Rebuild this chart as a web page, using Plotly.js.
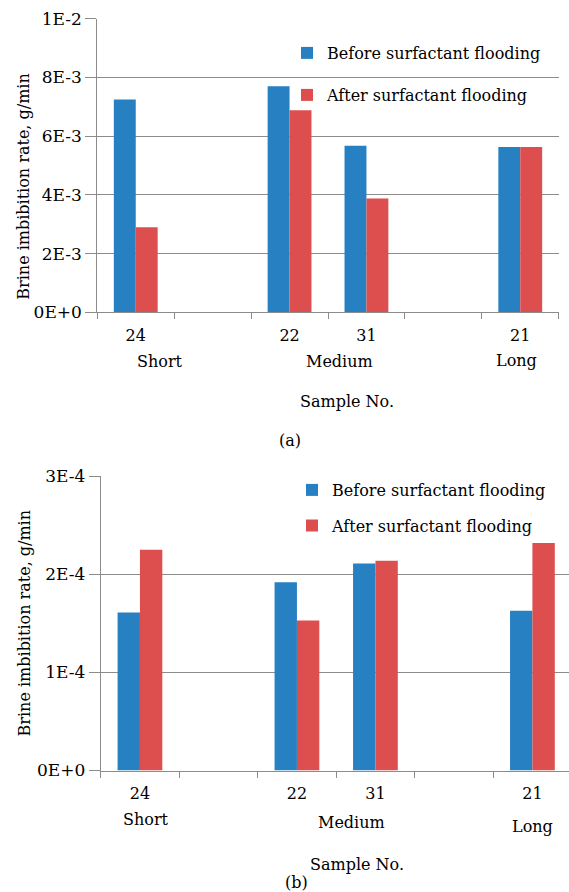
<!DOCTYPE html>
<html>
<head>
<meta charset="utf-8">
<script src="https://cdn.plot.ly/plotly-3.0.1.min.js"></script>
<style>html,body{margin:0;padding:0;background:#fff}#chart{width:569px;height:892px}</style>
</head>
<body>
<div id="chart"></div>
<script>
// ---- data ----
const categories = ["24", " ", "22", "31", "  ", "21"];
const groupLabels = ["Short", "Medium", "Long"];
const seriesNames = ["Before surfactant flooding", "After surfactant flooding"];
const beforeA = [0.00725, null, 0.0077, 0.00567, null, 0.00563];
const afterA  = [0.0029,  null, 0.00688, 0.00388, null, 0.00563];
const beforeB = [1.61e-4, null, 1.92e-4, 2.11e-4, null, 1.63e-4];
const afterB  = [2.25e-4, null, 1.53e-4, 2.14e-4, null, 2.32e-4];
const yTickValsA = [0, 0.002, 0.004, 0.006, 0.008, 0.01];
const yTickTextA = ["0E+0", "2E-3", "4E-3", "6E-3", "8E-3", "1E-2"];
const yTickValsB = [0, 1e-4, 2e-4, 3e-4];
const yTickTextB = ["0E+0", "1E-4", "2E-4", "3E-4"];
const yTitle = "Brine imbibition rate, g/min";
const xTitle = "Sample No.";
const panelLabels = ["(a)", "(b)"];

// ---- styling ----
const W = 569, H = 892;
const px = x => x / W;
const py = y => 1 - y / H;
const FONT = "DejaVu Serif";
const FS = 16;
const TFS = 17;
const BLUE = "#2680c2", RED = "#dd4f4f", GRID = "#8c8c8c";

const traces = [
  {type: "bar", x: categories, y: beforeA, name: seriesNames[0], marker: {color: BLUE}, xaxis: "x", yaxis: "y", legend: "legend"},
  {type: "bar", x: categories, y: afterA, name: seriesNames[1], marker: {color: RED}, xaxis: "x", yaxis: "y", legend: "legend2"},
  {type: "bar", x: categories, y: beforeB, name: seriesNames[0], marker: {color: BLUE}, xaxis: "x2", yaxis: "y2", legend: "legend3"},
  {type: "bar", x: categories, y: afterB, name: seriesNames[1], marker: {color: RED}, xaxis: "x2", yaxis: "y2", legend: "legend4"}
];

function xAxis(domain, range, anchor) {
  return {
    type: "category", domain: domain, range: range, anchor: anchor,
    categoryorder: "array", categoryarray: categories,
    tickson: "boundaries", ticks: "outside", ticklen: 6, tickcolor: GRID, tickwidth: 1,
    ticklabelstandoff: 8,
    showline: true, linecolor: GRID, linewidth: 1, showgrid: false,
    tickfont: {family: FONT, size: FS, color: "#000"}, fixedrange: true
  };
}
function yAxis(domain, range, vals, text, anchor) {
  return {
    domain: domain, range: range, anchor: anchor,
    tickmode: "array", tickvals: vals, ticktext: text,
    ticks: "outside", ticklen: 11, tickcolor: GRID, tickwidth: 1,
    showline: true, linecolor: GRID, linewidth: 1,
    showgrid: true, gridcolor: GRID, gridwidth: 1, zeroline: false,
    tickfont: {family: FONT, size: TFS, color: "#000"}, fixedrange: true
  };
}
function leg(x, y) {
  return {x: px(x), y: py(y), xanchor: "left", yanchor: "middle", xref: "paper", yref: "paper",
    bgcolor: "rgba(0,0,0,0)", borderwidth: 0, itemwidth: 30,
    font: {family: FONT, size: FS, color: "#000"}};
}
function ann(text, x, y, angle) {
  return {text: text, x: px(x), y: py(y), xref: "paper", yref: "paper", showarrow: false,
    xanchor: "center", yanchor: "middle", textangle: angle || 0,
    font: {family: FONT, size: FS, color: "#000"}};
}

const layout = {
  width: W, height: H,
  margin: {l: 0, r: 0, t: 0, b: 0},
  paper_bgcolor: "#fff", plot_bgcolor: "#fff",
  font: {family: FONT, size: FS, color: "#000"},
  barmode: "group", bargap: 0.43, bargroupgap: 0,
  showlegend: true,
  xaxis: xAxis([px(97.3), px(558.7)], [-0.5, 5.5], "y"),
  yaxis: yAxis([py(312.3), py(18.7)], [0, 0.01], yTickValsA, yTickTextA, "x"),
  xaxis2: xAxis([px(100.7), 1], [-0.5, 5.466], "y2"),
  yaxis2: yAxis([py(770.5), py(476.3)], [0, 3e-4], yTickValsB, yTickTextB, "x2"),
  legend: leg(287, 53),
  legend2: leg(287, 95),
  legend3: leg(292, 490),
  legend4: leg(292, 525.5),
  annotations: [
    ann(yTitle, 24, 186.7, -90),
    ann(groupLabels[0], 160, 361.5),
    ann(groupLabels[1], 339, 361),
    ann(groupLabels[2], 516, 360),
    ann(xTitle, 347, 401),
    ann(panelLabels[0], 290, 440),
    ann(yTitle, 24, 623.4, -90),
    ann(groupLabels[0], 146, 819),
    ann(groupLabels[1], 351.5, 822),
    ann(groupLabels[2], 532, 826),
    ann(xTitle, 357, 864),
    ann(panelLabels[1], 296, 882)
  ]
};

Plotly.newPlot("chart", traces, layout, {displayModeBar: false, staticPlot: true});
</script>
</body>
</html>
